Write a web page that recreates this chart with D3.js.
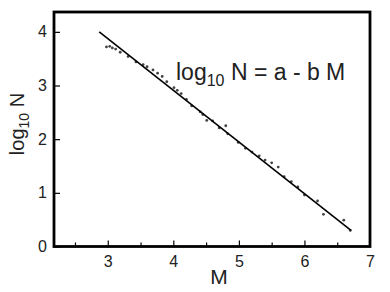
<!DOCTYPE html>
<html>
<head>
<meta charset="utf-8">
<script src="https://cdn.jsdelivr.net/npm/d3@7"></script>
<style>
  body { margin: 0; background: #fff; }
  text { font-family: "Liberation Sans", Arial, sans-serif; }
</style>
</head>
<body>
<div id="chart"></div>
<script>
// magnitude M and log10 N
const magnitudes = [2.98, 3.03, 3.07, 3.12, 3.19, 3.31, 3.43, 3.54, 3.60, 3.69, 3.76, 3.83, 3.90, 4.01, 4.06, 4.12,
  4.20, 4.28, 4.41, 4.45, 4.51, 4.60, 4.70, 4.80, 4.83, 4.99, 5.10, 5.20, 5.31, 5.40, 5.50, 5.60,
  5.69, 5.80, 5.90, 6.00, 6.20, 6.29, 6.60, 6.70];
const logN = [3.72, 3.73, 3.70, 3.68, 3.62, 3.54, 3.44, 3.39, 3.35, 3.29, 3.23, 3.17, 3.07, 2.96, 2.91, 2.85,
  2.74, 2.62, 2.51, 2.46, 2.35, 2.34, 2.21, 2.25, 2.10, 1.94, 1.83, 1.76, 1.69, 1.61, 1.56, 1.48,
  1.30, 1.21, 1.11, 0.96, 0.85, 0.60, 0.49, 0.30];
// fitted line end points
const fitM = [2.87, 6.71];
const fitLogN = [4.0, 0.30];

const xTicks = [3, 4, 5, 6, 7];
const xMinor = [2.5, 3.5, 4.5, 5.5, 6.5];
const yTicks = [0, 1, 2, 3, 4];

const width = 390, height = 292;
const mLeft = 54, mRight = 370, mTop = 12, mBottom = 246.5;

const svg = d3.select("#chart").append("svg")
  .attr("width", width)
  .attr("height", height);

const x = d3.scaleLinear().domain([2.18, 7]).range([mLeft, mRight]);
const y = d3.scaleLinear().domain([0, 4.37]).range([mBottom, mTop]);

// points
svg.append("g")
  .selectAll("circle")
  .data(magnitudes)
  .enter()
  .append("circle")
  .attr("cx", d => x(d))
  .attr("cy", (d, i) => y(logN[i]))
  .attr("r", 1.4)
  .attr("fill", "#444");

// fit line
svg.append("line")
  .attr("x1", x(fitM[0])).attr("y1", y(fitLogN[0]))
  .attr("x2", x(fitM[1])).attr("y2", y(fitLogN[1]))
  .attr("stroke", "#000")
  .attr("stroke-width", 1.6);

// axes, ticks inward
const xAxis = d3.axisBottom(x).tickValues(xTicks).tickSize(-6).tickPadding(9).tickFormat(d3.format("d"));
const gx = svg.append("g")
  .attr("transform", `translate(0,${mBottom})`)
  .call(xAxis);

const gxMinor = svg.append("g")
  .attr("transform", `translate(0,${mBottom})`)
  .call(d3.axisBottom(x).tickValues(xMinor).tickSize(-4).tickFormat(""));

const yAxis = d3.axisLeft(y).tickValues(yTicks).tickSize(-6).tickPadding(7).tickFormat(d3.format("d"));
const gy = svg.append("g")
  .attr("transform", `translate(${mLeft},0)`)
  .call(yAxis);

[gx, gy, gxMinor].forEach(g => {
  g.select(".domain").remove();
  g.selectAll(".tick line").attr("stroke", "#000").attr("stroke-width", 1.2);
  g.selectAll(".tick text").attr("fill", "#222").style("font-size", "16px")
    .style("font-family", "'Liberation Sans', Arial, sans-serif");
});
gx.select(".tick:last-of-type line").remove();

// frame
svg.append("rect")
  .attr("x", mLeft).attr("y", mTop)
  .attr("width", mRight - mLeft).attr("height", mBottom - mTop)
  .attr("fill", "none")
  .attr("stroke", "#000")
  .attr("stroke-width", 2.8);

// axis titles
svg.append("text")
  .attr("x", 219)
  .attr("y", 284)
  .attr("text-anchor", "middle")
  .style("font-size", "21px")
  .attr("fill", "#222")
  .text("M");

const yl = svg.append("text")
  .attr("transform", `translate(24,124) rotate(-90)`)
  .attr("text-anchor", "middle")
  .style("font-size", "20px")
  .attr("fill", "#222");
yl.append("tspan").text("log");
yl.append("tspan").attr("dy", 5).style("font-size", "14px").text("10");
yl.append("tspan").attr("dy", -5).text(" N");

// equation
const eq = svg.append("text")
  .attr("x", 176)
  .attr("y", 80)
  .style("font-size", "23px")
  .attr("fill", "#222");
eq.append("tspan").text("log");
eq.append("tspan").attr("dy", 6).style("font-size", "16px").text("10");
eq.append("tspan").attr("dy", -6).text(" N = a - b M");
</script>
</body>
</html>
